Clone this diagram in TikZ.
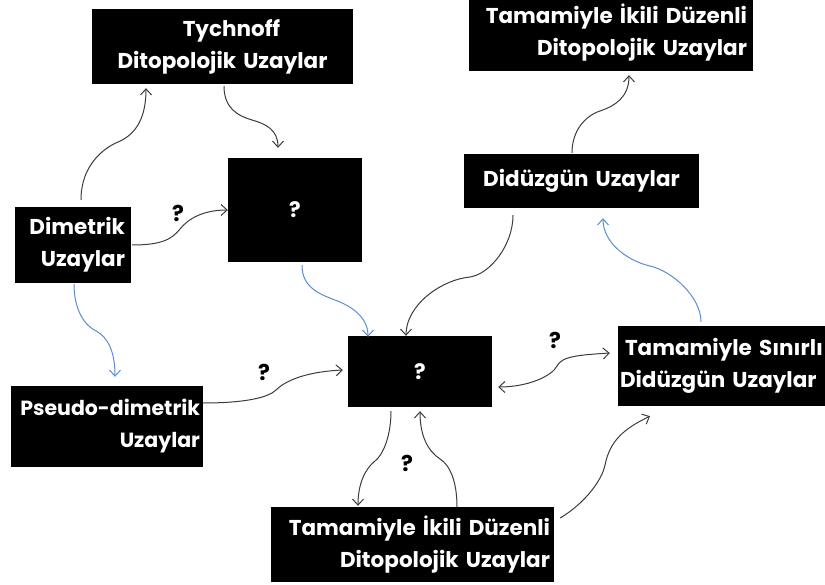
\documentclass[tikz,border=0pt]{standalone}
\usepackage{fontspec}
\setmainfont{Poppins}
\usetikzlibrary{arrows.meta}
\definecolor{dk}{HTML}{3C3C3C}
\definecolor{bl}{HTML}{5B8CD2}
\begin{document}
\begin{tikzpicture}[x=1pt,y=-1pt,
  box/.style={fill=black,text=white,font=\bfseries\fontsize{21.5}{32}\selectfont,inner ysep=0pt},
  con/.style={draw=dk,line width=1pt,-{Straight Barb[length=6pt,width=11pt]}},
  bcon/.style={con,draw=bl},
  qlab/.style={font=\bfseries\fontsize{22}{22}\selectfont,text=black,inner sep=0pt}]
\useasboundingbox (0,0) rectangle (825,585);
\clip (0,0) rectangle (825,585);
% nodes
\node[box,minimum height=75pt,text width=251pt,inner xsep=5pt,align=center] (tych) at (222.5,46.5) {\mbox{\hspace*{18pt}Tychnoff}\\\mbox{Ditopolojik Uzaylar}};
\node[box,minimum width=134pt,minimum height=104pt,inner sep=0pt] (q1) at (295,210) {?};
\node[box,minimum height=76pt,text width=104pt,inner xsep=6pt,align=right] (dim) at (73,245) {\mbox{Dimetrik}\\\mbox{Uzaylar}};
\node[box,minimum height=76pt,text width=272pt,inner xsep=6pt,align=right] (tr) at (611,33) {\mbox{Tamamiyle İkili Düzenli}\\\mbox{Ditopolojik Uzaylar}};
\node[box,minimum height=54pt,text width=225pt,inner xsep=5pt,align=center] (did) at (581.5,181) {\mbox{Didüzgün Uzaylar}};
\node[box,minimum height=81pt,text width=186pt,inner xsep=3pt,align=right,font=\bfseries\fontsize{20.5}{32}\selectfont] (pseudo) at (107,426.5) {\mbox{Pseudo-dimetrik}\\\mbox{Uzaylar}};
\node[box,minimum width=144pt,minimum height=71pt,inner sep=0pt] (qc) at (420,371.5) {?};
\node[box,minimum height=80pt,text width=218pt,inner xsep=2pt,align=left] (ts) at (729,366) {\mbox{\hspace*{5pt}Tamamiyle Sınırlı}\\\mbox{Didüzgün Uzaylar}};
\node[box,minimum height=75pt,text width=275pt,inner xsep=4pt,align=right] (bot) at (412.5,544.5) {\mbox{Tamamiyle İkili Düzenli}\\\mbox{Ditopolojik Uzaylar}};
% question labels
\node[qlab] (l1) at (178,213) {?};
\node[qlab] (l2) at (264,372) {?};
\node[qlab] (l3) at (555,340) {?};
\node[qlab] (l4) at (407,463) {?};
% connectors
\draw[con] ([xshift=8pt,yshift=7pt]dim.north) .. controls +(0,-35) and +(-14,6) .. (118,142) .. controls +(14,-6) and +(0,35) .. ([xshift=-76.5pt,yshift=-4pt]tych.south);
\draw[con] ([xshift=1.5pt,yshift=-2pt]tych.south) .. controls +(0,22) and +(-14,-4) .. (252,120) .. controls +(14,4) and +(0,-18) .. ([xshift=-17pt,yshift=10pt]q1.north);
\draw[con] ([xshift=1pt]dim.east) .. controls +(30,0) and +(-8,10) .. (180,229) .. controls +(8,-10) and +(-25,0) .. (q1.west);
\draw[bcon] ([xshift=1pt,yshift=-1pt]dim.south) .. controls +(0,25) and +(-12,-6) .. (96,331) .. controls +(12,6) and +(0,-25) .. ([xshift=8pt,yshift=9pt]pseudo.north);
\draw[bcon] ([xshift=7pt,yshift=-3pt]q1.south) .. controls +(0,22) and +(-16,-6) .. (335,300) .. controls +(16,6) and +(0,-20) .. ([xshift=-52pt,yshift=-1pt]qc.north);
\draw[con] ([xshift=-68.5pt,yshift=-7pt]did.south) .. controls +(0,30) and +(20,-3) .. (470,277) .. controls +(-30,3) and +(0,-30) .. ([xshift=-14pt]qc.north);
\draw[bcon] ([xshift=-28pt,yshift=4pt]ts.north) .. controls +(0,-25) and +(22,5) .. (650,266) .. controls +(-22,-5) and +(0,25) .. ([xshift=21.5pt,yshift=-10pt]did.south);
\draw[con] ([xshift=-9.5pt,yshift=1pt]did.north) .. controls +(0,-22) and +(-15,5) .. (600,111) .. controls +(15,-5) and +(0,22) .. ([xshift=18pt,yshift=-4pt]tr.south);
\draw[con] ([yshift=23.5pt]pseudo.east) .. controls +(40,0) and +(-8,8) .. (276,390) .. controls +(8,-8) and +(-40,2) .. ([xshift=-5pt,yshift=1.5pt]qc.west);
\draw[con,{Straight Barb[length=6pt,width=11pt]}-{Straight Barb[length=6pt,width=11pt]}] ([xshift=6pt,yshift=-15.5pt]qc.east) .. controls +(30,0) and +(-5,10) .. (557,366) .. controls +(5,-10) and +(-30,2) .. ([xshift=-8pt,yshift=13pt]ts.west);
\draw[con] ([xshift=-29pt,yshift=-4pt]qc.south) .. controls +(0,25) and +(8,-6) .. (375,461) .. controls +(-10,8) and +(0,-22) .. ([xshift=-54.5pt,yshift=1pt]bot.north);
\draw[con] ([xshift=44.5pt]bot.north) .. controls +(0,-25) and +(10,6) .. (440,459) .. controls +(-12,-8) and +(0,25) .. ([yshift=-4pt]qc.south);
\draw[con] ([xshift=6pt,yshift=26.5pt]bot.east) .. controls +(25,-15) and +(-3,15) .. (605,465) .. controls +(5,-25) and +(-25,12) .. ([xshift=-79pt,yshift=-10pt]ts.south);
\end{tikzpicture}
\end{document}
